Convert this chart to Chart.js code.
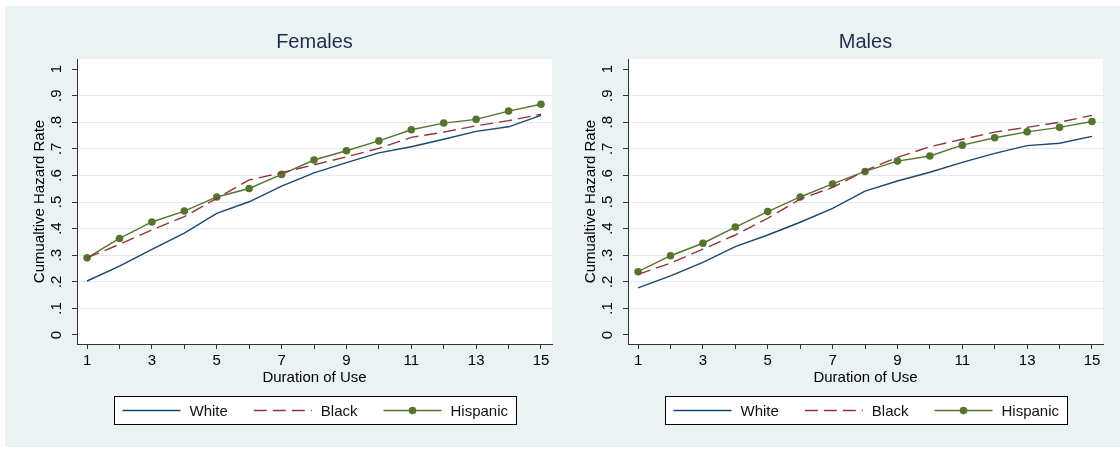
<!DOCTYPE html>
<html>
<head>
<meta charset="utf-8">
<script src="https://cdn.jsdelivr.net/npm/chart.js@4.4.1/dist/chart.umd.min.js"></script>
<style>
  html, body { margin: 0; padding: 0; background: #fff; }
  body { width: 1120px; height: 451px; position: relative; overflow: hidden; }
  #panel { position: absolute; left: 5px; top: 6px; width: 1115px; height: 441px; background: #eaf2f3; }
  .box { position: absolute; top: 6px; width: 555px; height: 441px; }
</style>
</head>
<body>
<div id="panel"></div>
<div class="box" style="left:5px"><canvas id="females" width="555" height="441"></canvas></div>
<div class="box" style="left:556px"><canvas id="males" width="555" height="441"></canvas></div>
<script>
// --- DATA ---
const durations = [1, 2, 3, 4, 5, 6, 7, 8, 9, 10, 11, 12, 13, 14, 15];
const xTickValues = [1, 2, 3, 4, 5, 6, 7, 8, 9, 10, 11, 12, 13, 14, 15];
const xTickLabels = ['1', '', '3', '', '5', '', '7', '', '9', '', '11', '', '13', '', '15'];
const yTickValues = [0, 0.1, 0.2, 0.3, 0.4, 0.5, 0.6, 0.7, 0.8, 0.9, 1];
const yTickLabels = ['0', '.1', '.2', '.3', '.4', '.5', '.6', '.7', '.8', '.9', '1'];
const seriesNames = ['White', 'Black', 'Hispanic'];

const femaleWhite    = [0.203, 0.259, 0.322, 0.383, 0.457, 0.501, 0.560, 0.610, 0.648, 0.685, 0.708, 0.736, 0.766, 0.783, 0.826];
const femaleBlack    = [0.290, 0.341, 0.395, 0.445, 0.514, 0.583, 0.610, 0.640, 0.670, 0.702, 0.743, 0.763, 0.787, 0.806, 0.830];
const femaleHispanic = [0.290, 0.363, 0.425, 0.466, 0.519, 0.551, 0.604, 0.658, 0.693, 0.730, 0.772, 0.797, 0.811, 0.842, 0.868];

const maleWhite    = [0.177, 0.222, 0.273, 0.332, 0.376, 0.424, 0.476, 0.541, 0.579, 0.612, 0.649, 0.683, 0.712, 0.721, 0.747];
const maleBlack    = [0.228, 0.270, 0.323, 0.376, 0.439, 0.511, 0.555, 0.618, 0.668, 0.708, 0.736, 0.763, 0.781, 0.800, 0.826];
const maleHispanic = [0.238, 0.298, 0.345, 0.406, 0.464, 0.519, 0.568, 0.615, 0.654, 0.673, 0.714, 0.742, 0.764, 0.781, 0.803];

// --- STYLE ---
const FONT = '"Liberation Sans", Arial, sans-serif';
const NAVY = '#1a476f';
const MAROON = '#90353b';
const GREEN = '#55752f';

const toPoints = (vals) => vals.map((v, i) => ({ x: durations[i], y: v }));

// white plot region
const plotBg = {
    id: 'plotBg',
    beforeDraw(chart) {
        const { ctx, chartArea: a } = chart;
        ctx.save();
        ctx.fillStyle = '#fff';
        ctx.fillRect(a.left, a.top, a.right - a.left, a.bottom - a.top);
        ctx.restore();
    }
};

// panel title, centred over the plot region (not the whole canvas)
const panelTitle = {
    id: 'panelTitle',
    afterDraw(chart, args, opts) {
        const { ctx, chartArea: a } = chart;
        ctx.save();
        ctx.font = '20px ' + FONT;
        ctx.fillStyle = '#1f2d4d';
        ctx.textAlign = 'center';
        ctx.textBaseline = 'middle';
        ctx.fillText(opts.text, (a.left + a.right) / 2, 36);
        ctx.restore();
    }
};

// Stata-like boxed legend under the plot
const boxLegend = {
    id: 'boxLegend',
    afterDraw(chart) {
        const ctx = chart.ctx;
        const area = chart.chartArea;
        const sets = chart.data.datasets;
        ctx.save();
        ctx.font = '15px ' + FONT;
        const widths = sets.map(d => ctx.measureText(d.label).width);
        const lineLen = 58, gap = 9, spacing = 26, pad = 8;
        const total = pad * 2 + widths.reduce((a, w) => a + lineLen + gap + w, 0) + spacing * (sets.length - 1);
        const left = Math.round((area.left + area.right) / 2 - total / 2) + 0.5;
        const top = 390.5, h = 28;
        ctx.fillStyle = '#fff';
        ctx.fillRect(left, top, total, h);
        ctx.strokeStyle = '#000';
        ctx.lineWidth = 1;
        ctx.strokeRect(left, top, Math.round(total), h);
        let x = left + pad;
        const cy = top + h / 2;
        sets.forEach((d, i) => {
            ctx.strokeStyle = d.borderColor;
            ctx.lineWidth = d.borderWidth;
            ctx.setLineDash(d.borderDash || []);
            ctx.beginPath();
            ctx.moveTo(x, cy);
            ctx.lineTo(x + lineLen, cy);
            ctx.stroke();
            ctx.setLineDash([]);
            if (d.pointRadius > 0) {
                ctx.fillStyle = d.pointBackgroundColor;
                ctx.beginPath();
                ctx.arc(x + lineLen / 2, cy, d.pointRadius, 0, Math.PI * 2);
                ctx.fill();
            }
            x += lineLen + gap;
            ctx.fillStyle = '#111';
            ctx.textBaseline = 'middle';
            ctx.textAlign = 'left';
            ctx.fillText(d.label, x, cy + 1);
            x += widths[i] + spacing;
        });
        ctx.restore();
    }
};

const makeChart = (id, title, white, black, hispanic) => {
    const font = { family: FONT, size: 15 };
    return new Chart(document.getElementById(id), {
        type: 'line',
        data: {
            datasets: [
                { label: seriesNames[0], data: toPoints(white), borderColor: NAVY, borderWidth: 1.4, pointRadius: 0, fill: false },
                { label: seriesNames[1], data: toPoints(black), borderColor: MAROON, borderWidth: 1.4, borderDash: [13, 6], pointRadius: 0, fill: false },
                { label: seriesNames[2], data: toPoints(hispanic), borderColor: GREEN, borderWidth: 1.4, pointRadius: 3.8,
                  pointBackgroundColor: GREEN, pointBorderColor: GREEN, pointBorderWidth: 0, fill: false }
            ]
        },
        options: {
            responsive: false,
            animation: false,
            layout: { padding: { left: 0, right: 8, top: 53, bottom: 55 } },
            plugins: {
                legend: { display: false },
                tooltip: { enabled: false },
                title: { display: false },
                panelTitle: { text: title }
            },
            scales: {
                x: {
                    type: 'linear', min: 0.69, max: 15.34,
                    afterBuildTicks: s => { s.ticks = xTickValues.map(v => ({ value: v })); },
                    afterFit: s => { s.height = 48; },
                    ticks: { color: '#000', font, padding: 3, maxRotation: 0, autoSkip: false,
                             callback: (v, i) => xTickLabels[i] },
                    grid: { drawOnChartArea: false, tickColor: '#333', tickLength: 5 },
                    border: { color: '#333', width: 1 },
                    title: { display: true, text: 'Duration of Use', color: '#000', font, padding: { top: 0, bottom: 5.5 } }
                },
                y: {
                    type: 'linear', min: -0.034, max: 1.038,
                    afterBuildTicks: s => { s.ticks = yTickValues.map(v => ({ value: v })); },
                    afterFit: s => { s.width = 72; },
                    ticks: { color: '#000', font, padding: 9, minRotation: 90, maxRotation: 90, crossAlign: 'center',
                             autoSkip: false, callback: (v, i) => yTickLabels[i] },
                    grid: {
                        color: c => (c.tick && (c.tick.value <= 0 || c.tick.value >= 1)) ? 'rgba(0,0,0,0)' : '#e1eaed',
                        tickColor: '#333', tickLength: 5, lineWidth: 1
                    },
                    border: { color: '#333', width: 1 },
                    title: { display: true, text: 'Cumualtive Hazard Rate', color: '#000', font, padding: { top: 25.5, bottom: 0 } }
                }
            }
        },
        plugins: [plotBg, panelTitle, boxLegend]
    });
};

makeChart('females', 'Females', femaleWhite, femaleBlack, femaleHispanic);
makeChart('males', 'Males', maleWhite, maleBlack, maleHispanic);
</script>
</body>
</html>
